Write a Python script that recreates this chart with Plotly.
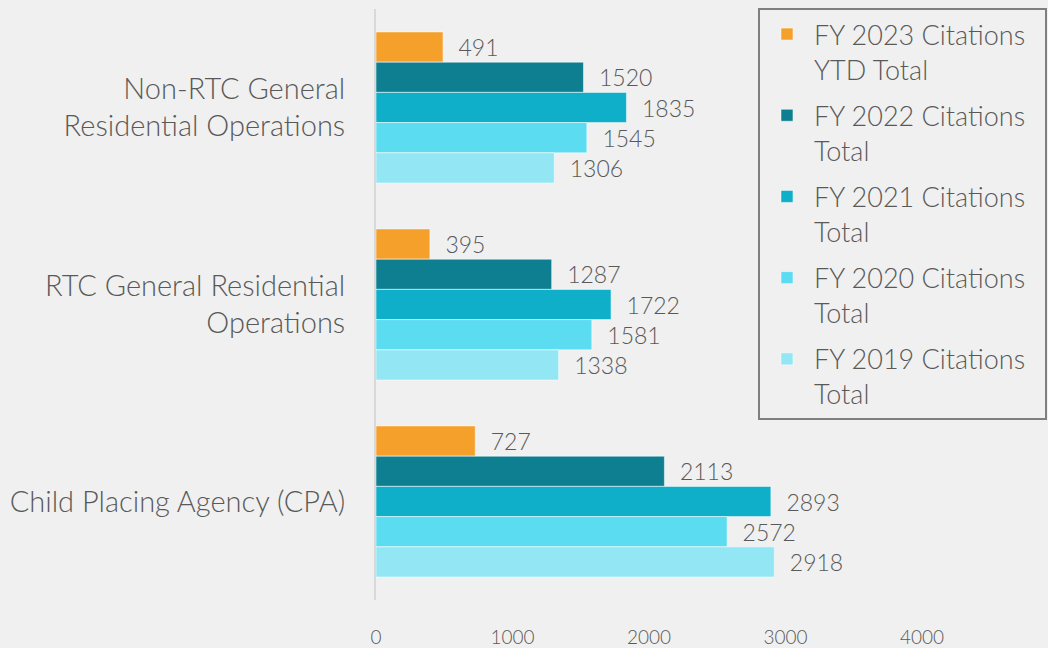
import plotly.graph_objects as go

categories = ["Non-RTC General<br>Residential Operations",
              "RTC General Residential<br>Operations",
              "Child Placing Agency (CPA)"]
series_names = ["FY 2023 Citations<br>YTD Total",
                "FY 2022 Citations<br>Total",
                "FY 2021 Citations<br>Total",
                "FY 2020 Citations<br>Total",
                "FY 2019 Citations<br>Total"]
fy2023 = [491, 395, 727]
fy2022 = [1520, 1287, 2113]
fy2021 = [1835, 1722, 2893]
fy2020 = [1545, 1581, 2572]
fy2019 = [1306, 1338, 2918]
x_ticks = [0, 1000, 2000, 3000, 4000]

colors = ["#F5A02A", "#0E7F91", "#10AFC9", "#5BDCF0", "#93E7F5"]
values = [fy2023, fy2022, fy2021, fy2020, fy2019]

FONT = "Segoe UI Light, Lato, Open Sans, sans-serif"
TXT = "#595959"

fig = go.Figure()
for i, (name, vals, c) in enumerate(zip(series_names, values, colors)):
    first, second = name.split("<br>")
    fig.add_trace(go.Bar(
        y=categories, x=vals, name=first + "\u00a0\u00a0<br>" + second,
        orientation="h",
        legendgroup="g%d" % i,
        marker=dict(color=c, line=dict(color="rgba(255,255,255,0.5)", width=1)),
        text=["\u00a0\u00a0" + str(v) for v in vals],
        textposition="outside",
        textfont=dict(family=FONT, size=23, color=TXT, weight=300),
        cliponaxis=False,
    ))

fig.update_layout(
    width=1048, height=648,
    paper_bgcolor="#F0F0F0", plot_bgcolor="#F0F0F0",
    margin=dict(l=376, r=126, t=9, b=48, autoexpand=False),
    barmode="group", bargap=0.233, bargroupgap=0,
    font=dict(family=FONT, color=TXT, weight=300),
    showlegend=True,
    legend=dict(
        x=0.6996, y=1.0017, xanchor="left", yanchor="top",
        bgcolor="rgba(0,0,0,0)", bordercolor="#7F7F7F", borderwidth=2,
        font=dict(family=FONT, size=27, color=TXT, weight=300),
        valign="top", tracegroupgap=8, itemwidth=44, maxheight=1000,
    ),
    xaxis=dict(
        range=[0, 4000], tickvals=x_ticks, showgrid=False, zeroline=False,
        showline=False, ticks="", ticklabelstandoff=24, automargin=False,
        tickfont=dict(family=FONT, size=19, color=TXT, weight=300),
    ),
    yaxis=dict(
        autorange="reversed", showgrid=False, zeroline=False,
        showline=True, linecolor="#D9D9D9", linewidth=2, ticks="",
        ticklabelstandoff=23, automargin=False,
        tickfont=dict(family=FONT, size=29, color=TXT, weight=300),
    ),
)

fig.write_html("out.html", config={"displayModeBar": False},
               post_script="document.body.style.margin='0';")
